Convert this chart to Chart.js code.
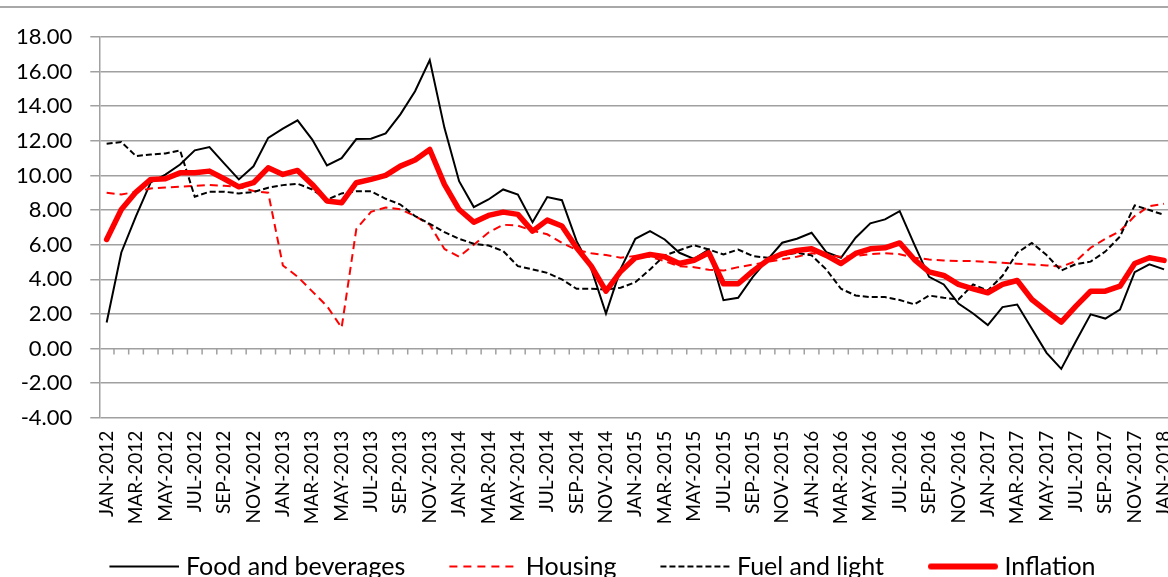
<!DOCTYPE html>
<html><head><meta charset="utf-8">
<script src="https://cdn.jsdelivr.net/npm/chart.js@4.4.1/dist/chart.umd.min.js"></script>
<style>
html,body{margin:0;padding:0;background:#fff;overflow:hidden;width:1168px;height:577px;}
#wrap{position:relative;width:1168px;height:577px;overflow:hidden;background:#fff;}
#topline{position:absolute;left:0;top:6px;width:1168px;height:2px;background:#a8a8a8;}
#c{position:absolute;left:-7px;top:0;}
</style></head><body>
<div id="wrap"><div id="topline"></div><canvas id="c" width="1207" height="600"></canvas></div>
<script>
const months = [
 "JAN-2012","FEB-2012","MAR-2012","APR-2012","MAY-2012","JUN-2012","JUL-2012","AUG-2012","SEP-2012","OCT-2012","NOV-2012","DEC-2012",
 "JAN-2013","FEB-2013","MAR-2013","APR-2013","MAY-2013","JUN-2013","JUL-2013","AUG-2013","SEP-2013","OCT-2013","NOV-2013","DEC-2013",
 "JAN-2014","FEB-2014","MAR-2014","APR-2014","MAY-2014","JUN-2014","JUL-2014","AUG-2014","SEP-2014","OCT-2014","NOV-2014","DEC-2014",
 "JAN-2015","FEB-2015","MAR-2015","APR-2015","MAY-2015","JUN-2015","JUL-2015","AUG-2015","SEP-2015","OCT-2015","NOV-2015","DEC-2015",
 "JAN-2016","FEB-2016","MAR-2016","APR-2016","MAY-2016","JUN-2016","JUL-2016","AUG-2016","SEP-2016","OCT-2016","NOV-2016","DEC-2016",
 "JAN-2017","FEB-2017","MAR-2017","APR-2017","MAY-2017","JUN-2017","JUL-2017","AUG-2017","SEP-2017","OCT-2017","NOV-2017","DEC-2017",
 "JAN-2018"
];
const seriesNames = ["Food and beverages","Housing","Fuel and light","Inflation"];
const food = [
 1.5,5.55,7.65,9.6,10.05,10.63,11.45,11.64,10.7,9.77,10.53,12.17,
 12.7,13.18,12.07,10.58,11.0,12.1,12.12,12.43,13.53,14.87,16.67,12.75,
 9.67,8.17,8.61,9.19,8.9,7.3,8.75,8.57,6.2,4.6,2.02,4.6,
 6.34,6.78,6.3,5.53,5.18,5.72,2.79,2.93,4.14,5.14,6.11,6.34,
 6.69,5.57,5.24,6.4,7.23,7.46,7.94,6.0,4.14,3.7,2.6,2.02,
 1.35,2.39,2.54,1.14,-0.25,-1.18,0.42,1.97,1.73,2.25,4.41,4.86,
 4.57
];
const housing = [
 9.0,8.9,9.05,9.25,9.3,9.35,9.4,9.45,9.4,9.35,9.1,9.0,
 4.8,4.15,3.3,2.45,1.2,6.9,7.9,8.15,8.05,7.65,7.15,5.75,
 5.3,6.0,6.7,7.15,7.1,6.8,6.6,6.1,5.7,5.5,5.4,5.25,
 5.35,5.3,5.05,4.75,4.7,4.55,4.5,4.7,4.85,5.0,5.15,5.3,
 5.5,5.4,5.3,5.35,5.45,5.5,5.45,5.25,5.14,5.09,5.05,5.05,
 5.0,4.95,4.9,4.86,4.8,4.72,5.05,5.82,6.34,6.78,7.65,8.23,
 8.36
];
const fuel = [
 11.83,11.93,11.12,11.21,11.27,11.45,8.77,9.06,9.06,8.96,9.04,9.29,
 9.44,9.52,9.19,8.6,8.96,9.09,9.09,8.65,8.32,7.65,7.2,6.72,
 6.34,6.05,5.95,5.63,4.76,4.57,4.37,3.99,3.45,3.45,3.41,3.51,
 3.83,4.57,5.38,5.68,5.97,5.72,5.43,5.72,5.34,5.24,5.38,5.53,
 5.38,4.57,3.45,3.06,2.97,2.97,2.8,2.55,3.06,2.93,2.83,3.7,
 3.35,4.2,5.53,6.1,5.4,4.5,4.88,5.02,5.6,6.47,8.27,8.0,
 7.72
];
const inflation = [
 6.3,8.03,9.04,9.77,9.81,10.15,10.15,10.25,9.81,9.34,9.58,10.44,
 10.06,10.29,9.48,8.52,8.42,9.58,9.77,10.0,10.54,10.89,11.5,9.48,
 8.03,7.3,7.69,7.88,7.75,6.78,7.42,7.08,5.82,4.76,3.31,4.45,
 5.24,5.43,5.3,4.91,5.1,5.53,3.74,3.74,4.47,5.1,5.47,5.66,
 5.76,5.38,4.91,5.49,5.76,5.82,6.1,5.14,4.43,4.22,3.7,3.45,
 3.22,3.7,3.93,2.83,2.16,1.52,2.45,3.31,3.31,3.6,4.91,5.24,
 5.09
];
const yMin = -4, yMax = 18, yStep = 2;

const GRID = '#a0a0a0';
const FONT = 'Lato';

function legendImage(color, width, dash, cap) {
  const cv = document.createElement('canvas');
  cv.width = 110; cv.height = 12;
  const g = cv.getContext('2d');
  g.strokeStyle = color; g.lineWidth = width; g.lineCap = cap;
  g.setLineDash(dash);
  g.beginPath();
  const inset = cap === 'round' ? width / 2 : 0;
  g.moveTo(40 + inset, 6); g.lineTo(110 - inset, 6); g.stroke();
  return cv;
}
const legendImgs = [
  legendImage('#000000', 2, [], 'butt'),
  legendImage('#ff0000', 2, [8, 6], 'butt'),
  legendImage('#000000', 2, [6, 3], 'butt'),
  legendImage('#ff0000', 6, [], 'round')
];

const zeroTicks = {
  id: 'zeroTicks',
  beforeDatasetsDraw(chart) {
    const xs = chart.scales.x, ys = chart.scales.y, ctx = chart.ctx;
    const y0 = ys.getPixelForValue(0);
    ctx.save();
    ctx.strokeStyle = GRID; ctx.lineWidth = 1.5;
    ctx.beginPath();
    for (let k = 1; k < months.length; k++) {
      const px = (xs.getPixelForValue(k - 1) + xs.getPixelForValue(k)) / 2;
      ctx.moveTo(px, y0); ctx.lineTo(px, y0 + 6);
    }
    ctx.stroke();
    ctx.restore();
  }
};

new Chart(document.getElementById('c'), {
  type: 'line',
  data: {
    labels: months,
    datasets: [
      { label: seriesNames[0], data: food, borderColor: '#000000', borderWidth: 2, pointRadius: 0, tension: 0, order: 3, fill: false },
      { label: seriesNames[1], data: housing, borderColor: '#ff0000', borderWidth: 2, borderDash: [8, 5], pointRadius: 0, tension: 0, order: 2, fill: false },
      { label: seriesNames[2], data: fuel, borderColor: '#000000', borderWidth: 2, borderDash: [6, 3], pointRadius: 0, tension: 0, order: 1, fill: false },
      { label: seriesNames[3], data: inflation, borderColor: '#ff0000', borderWidth: 5.5, borderJoinStyle: 'round', borderCapStyle: 'round', pointRadius: 0, tension: 0, order: 0, fill: false }
    ]
  },
  options: {
    responsive: false,
    animation: false,
    devicePixelRatio: 1,
    layout: { padding: { top: 37, left: 0, right: 22, bottom: 11 } },
    plugins: {
      tooltip: { enabled: false },
      legend: {
        position: 'bottom',
        labels: {
          usePointStyle: true,
          pointStyleWidth: 98,
          boxHeight: 12,
          padding: 10,
          color: '#000',
          font: { family: FONT, size: 25 },
          generateLabels(chart) {
            const items = Chart.defaults.plugins.legend.labels.generateLabels(chart);
            items.sort((a, b) => a.datasetIndex - b.datasetIndex);
            items.forEach((it) => { it.pointStyle = legendImgs[it.datasetIndex]; });
            return items;
          }
        }
      }
    },
    scales: {
      x: {
        type: 'category',
        offset: true,
        grid: { display: false, drawTicks: false, offset: true },
        border: { display: false },
        afterFit(scale) { scale.height = 126.3; },
        ticks: {
          autoSkip: false,
          minRotation: 90,
          maxRotation: 90,
          padding: 13,
          color: '#000',
          font: { family: FONT, size: 19 },
          callback(val, idx) { return idx % 2 === 0 ? months[idx] : ''; }
        }
      },
      y: {
        min: yMin, max: yMax,
        afterFit(scale) { scale.width = 106.3; },
        grid: { color: GRID, lineWidth: 1.5, tickLength: 9, drawTicks: true },
        border: { display: true, color: GRID, width: 1.5 },
        ticks: {
          stepSize: yStep,
          padding: 18,
          color: '#000',
          font: { family: FONT, size: 22 },
          callback(v) { return Number(v).toFixed(2); }
        }
      }
    }
  },
  plugins: [zeroTicks]
});
</script>
</body></html>
